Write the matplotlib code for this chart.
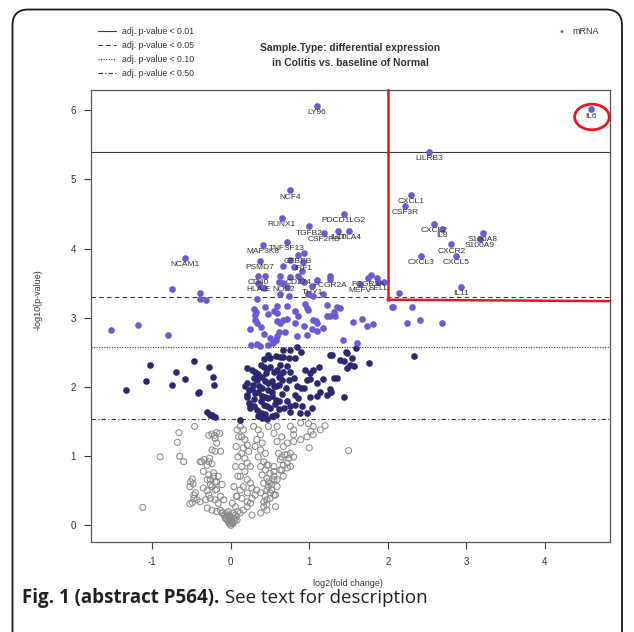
import numpy as np
import matplotlib
matplotlib.use("Agg")
import matplotlib.pyplot as plt
from matplotlib.patches import Ellipse, FancyBboxPatch
from matplotlib.lines import Line2D

plt.rcParams['font.family'] = ['Liberation Sans', 'DejaVu Sans']

# labelled genes (all above adj. p < 0.05)
gene_names = ['LY96', 'IL6', 'LILRB3', 'NCF4', 'RUNX1', 'PDCD1LG2', 'TGFB2', 'CSF2RB',
              'IL10', 'CTLA4', 'TNFSF13', 'MAP3K8', 'NCAM1', 'PSMD7', 'CEBPB', 'IRF1',
              'CD40', 'CD274', 'HLA-E', 'NOS2', 'THY1', 'FCGR2A', 'FCGR3A', 'MEFV', 'SELL',
              'CXCL1', 'CSF3R', 'CXCL2', 'IL8', 'S100A9', 'S100A8', 'CXCR2', 'CXCL3',
              'CXCL5', 'IL11']
gene_x = [1.10, 4.59, 2.53, 0.76, 0.65, 1.44, 1.00, 1.19, 1.37, 1.50, 0.72, 0.41, -0.58,
          0.37, 0.85, 0.92, 0.35, 0.86, 0.35, 0.67, 1.04, 1.27, 1.75, 1.65, 1.88, 2.30,
          2.22, 2.59, 2.69, 3.17, 3.21, 2.81, 2.42, 2.87, 2.93]
gene_y = [6.06, 6.01, 5.39, 4.84, 4.44, 4.50, 4.32, 4.22, 4.25, 4.26, 4.10, 4.05, 3.86,
          3.82, 3.91, 3.81, 3.61, 3.61, 3.50, 3.50, 3.46, 3.56, 3.58, 3.49, 3.52, 4.78,
          4.61, 4.36, 4.28, 4.14, 4.22, 4.06, 3.89, 3.89, 3.45]

# adj. p < 0.10 (light purple), unlabelled
purple_xy = np.array([
    (-0.75, 3.41), (-0.39, 3.36), (-0.39, 3.27), (-0.32, 3.25), (-1.53, 2.82), (-1.18, 2.89),
    (-0.80, 2.75), (0.76, 3.84), (0.67, 3.75), (0.44, 3.60), (0.63, 3.60), (0.76, 3.59),
    (0.91, 3.68), (0.89, 3.55), (0.61, 3.52), (0.37, 3.46), (0.42, 3.43), (0.63, 3.34),
    (0.99, 3.34), (1.05, 3.31), (1.18, 3.34), (1.26, 3.61), (1.78, 3.62), (1.86, 3.57),
    (1.95, 3.52), (0.72, 3.45), (0.33, 3.27), (2.14, 3.36), (0.93, 3.51), (1.10, 3.55),
    (0.93, 3.93), (0.80, 3.74), (0.44, 3.16), (0.59, 3.17), (0.72, 3.17), (0.95, 3.20),
    (0.97, 3.14), (1.23, 3.18), (1.35, 3.16), (2.07, 3.16), (0.30, 3.12), (0.32, 3.08),
    (0.31, 3.04), (0.48, 3.06), (0.55, 3.10), (0.59, 3.07), (0.74, 3.31), (0.82, 3.10),
    (0.86, 3.03), (0.99, 3.11), (1.05, 2.97), (1.08, 2.95), (1.10, 2.92), (1.39, 3.14),
    (1.31, 3.09), (1.33, 3.02), (1.56, 2.94), (1.67, 2.98), (1.73, 2.88), (1.81, 2.91),
    (0.34, 2.92), (0.38, 2.86), (0.42, 2.77), (0.50, 2.70), (0.59, 2.95), (0.63, 2.92),
    (0.67, 2.96), (0.72, 2.98), (0.61, 2.80), (0.59, 2.73), (0.57, 2.68), (0.54, 2.63),
    (0.69, 2.79), (0.84, 2.73), (0.93, 2.88), (0.97, 2.75), (1.03, 2.83), (1.10, 2.81),
    (1.18, 2.85), (1.23, 3.03), (0.26, 2.61), (0.34, 2.62), (0.47, 2.61), (1.43, 2.68),
    (1.61, 2.64), (2.05, 3.15), (0.82, 2.93), (1.27, 3.02), (2.31, 3.15), (2.24, 2.93),
    (2.41, 2.97), (2.69, 2.92), (0.37, 2.59), (0.25, 2.83), (0.31, 2.97),
])

# adj. p < 0.50 (dark navy)
navy_xy = np.array([
    (-1.03, 2.31), (-0.47, 2.38), (-0.28, 2.29), (-0.70, 2.21), (-0.58, 2.11), (-1.08, 2.09),
    (-0.75, 2.03), (-1.34, 1.95), (-0.42, 1.91), (-0.41, 1.93), (-0.30, 1.64), (-0.27, 1.60),
    (-0.24, 1.60), (-0.20, 1.57), (-0.22, 2.15), (-0.21, 2.03), (0.48, 2.46), (0.50, 2.42),
    (0.57, 2.44), (0.63, 2.43), (0.67, 2.43), (0.74, 2.42), (0.76, 2.54), (0.82, 2.42),
    (0.84, 2.58), (0.89, 2.51), (0.38, 2.32), (0.42, 2.29), (0.46, 2.26), (0.50, 2.29),
    (0.55, 2.22), (0.59, 2.24), (0.63, 2.17), (0.67, 2.21), (0.61, 2.14), (0.65, 2.10),
    (0.31, 2.21), (0.29, 2.13), (0.33, 2.10), (0.40, 2.14), (0.44, 2.08), (0.48, 2.05),
    (0.52, 2.08), (0.57, 2.01), (0.61, 2.03), (0.21, 2.05), (0.23, 1.96), (0.27, 1.97),
    (0.31, 1.91), (0.35, 1.93), (0.40, 1.87), (0.44, 1.86), (0.48, 1.84), (0.52, 1.87),
    (0.57, 1.81), (0.61, 1.79), (0.38, 1.79), (0.42, 1.74), (0.46, 1.72), (0.50, 1.69),
    (0.33, 1.67), (0.38, 1.62), (0.44, 1.61), (0.40, 1.55), (0.46, 1.53), (0.21, 1.86),
    (0.23, 1.77), (0.25, 1.69), (0.29, 1.73), (0.74, 2.10), (0.76, 2.22), (0.80, 2.13),
    (0.84, 2.01), (0.89, 1.98), (0.82, 1.89), (0.86, 1.84), (0.93, 1.98), (0.97, 2.10),
    (1.01, 2.20), (1.05, 2.25), (1.12, 2.29), (0.95, 2.25), (1.01, 1.86), (1.10, 1.87),
    (1.14, 1.93), (1.23, 1.89), (1.27, 1.97), (1.31, 2.13), (1.18, 2.11), (1.35, 2.13),
    (0.72, 1.79), (0.76, 1.72), (0.82, 1.74), (0.91, 1.72), (1.29, 2.46), (1.39, 2.39),
    (1.44, 2.38), (1.48, 2.49), (1.52, 2.32), (1.54, 2.42), (1.59, 2.56), (1.76, 2.35),
    (1.48, 2.27), (1.44, 1.86), (0.97, 1.62), (1.03, 1.69), (1.27, 2.46), (1.47, 2.51),
    (1.57, 2.30), (1.28, 1.93), (2.33, 2.45), (0.27, 2.25), (0.35, 2.18), (0.45, 2.20),
    (0.55, 2.02), (0.36, 2.02), (0.47, 1.95), (0.53, 1.92), (0.30, 1.83), (0.56, 1.76),
    (0.65, 1.90), (0.70, 1.98), (0.68, 1.70), (0.58, 1.60), (0.52, 1.58), (0.35, 1.58),
    (0.63, 2.32), (0.72, 2.30), (0.42, 2.40), (0.40, 1.98), (0.28, 2.03), (0.62, 1.68),
    (0.21, 2.27), (0.18, 2.01), (0.21, 1.89), (0.25, 1.74), (0.12, 1.52), (0.67, 2.54),
    (1.01, 2.11), (1.10, 2.05), (0.88, 1.62), (0.76, 1.64),
])

# not significant (open grey)
gray_xy = np.array([
    (-0.46, 1.43), (-0.66, 1.34), (-0.68, 1.20), (-0.90, 0.99), (-0.65, 1.00), (-0.60, 0.92),
    (-1.12, 0.26), (-0.28, 1.30), (-0.24, 1.32), (-0.21, 1.30), (-0.18, 1.34), (-0.14, 1.33),
    (-0.20, 1.26), (-0.24, 1.09), (-0.20, 1.07), (-0.13, 1.07), (-0.18, 1.19), (-0.39, 0.92),
    (-0.34, 0.95), (-0.28, 0.92), (-0.30, 0.87), (-0.49, 0.67), (-0.51, 0.63), (-0.48, 0.60),
    (-0.52, 0.56), (-0.45, 0.47), (-0.47, 0.39), (-0.43, 0.37), (-0.49, 0.33), (-0.52, 0.31),
    (-0.35, 0.78), (-0.28, 0.73), (-0.22, 0.76), (-0.26, 0.66), (-0.20, 0.63), (-0.16, 0.71),
    (-0.35, 0.54), (-0.30, 0.50), (-0.24, 0.56), (-0.18, 0.52), (-0.11, 0.59), (-0.39, 0.34),
    (-0.32, 0.37), (-0.26, 0.39), (-0.20, 0.37), (-0.13, 0.42), (-0.16, 0.32), (-0.09, 0.37),
    (-0.30, 0.25), (-0.24, 0.22), (-0.18, 0.20), (-0.11, 0.18), (-0.05, 0.15), (-0.01, 0.13),
    (0.04, 0.10), (0.08, 0.08), (-0.03, 0.05), (0.02, 0.03), (-0.07, 0.10), (-0.13, 0.22),
    (0.12, 0.18), (0.16, 0.22), (0.21, 0.27), (0.25, 0.32), (0.27, 0.39), (0.31, 0.44),
    (0.33, 0.51), (0.12, 1.43), (0.16, 1.38), (0.14, 1.28), (0.18, 1.24), (0.21, 1.16),
    (0.16, 1.12), (0.23, 1.07), (0.14, 1.04), (0.18, 0.97), (0.21, 0.90), (0.25, 0.85),
    (0.14, 0.85), (0.18, 0.78), (0.12, 0.71), (0.21, 0.66), (0.25, 0.61), (0.16, 0.56),
    (0.12, 0.51), (0.21, 0.47), (0.27, 0.54), (0.08, 0.42), (0.14, 0.39), (0.21, 0.34),
    (0.06, 0.27), (0.29, 1.43), (0.35, 1.38), (0.38, 1.31), (0.33, 1.24), (0.40, 1.19),
    (0.31, 1.14), (0.38, 1.09), (0.44, 1.04), (0.35, 0.99), (0.42, 0.92), (0.46, 0.87),
    (0.38, 0.85), (0.44, 0.80), (0.50, 0.75), (0.40, 0.73), (0.46, 0.68), (0.55, 0.66),
    (0.42, 0.61), (0.48, 0.56), (0.52, 0.51), (0.38, 0.47), (0.44, 0.42), (0.50, 0.39),
    (0.57, 0.44), (0.59, 0.56), (0.55, 0.85), (0.63, 0.95), (0.61, 1.04), (0.67, 1.14),
    (0.72, 1.19), (0.59, 1.21), (0.65, 1.28), (0.55, 1.33), (0.48, 1.43), (0.59, 1.43),
    (0.76, 1.43), (0.80, 1.38), (0.89, 1.48), (0.99, 1.47), (1.05, 1.43), (1.14, 1.38),
    (0.97, 1.28), (0.89, 1.24), (0.76, 1.04), (0.80, 0.99), (0.72, 0.90), (0.76, 0.85),
    (0.67, 0.71), (0.57, 0.27), (0.46, 0.22), (0.38, 0.18), (0.27, 0.15), (1.20, 1.44),
    (1.02, 1.36), (1.05, 1.31), (1.00, 1.12), (1.50, 1.08), (0.80, 1.21), (0.80, 1.31),
    (0.65, 0.99), (0.69, 1.02), (0.67, 0.87), (0.72, 0.83), (0.65, 0.80), (0.55, 0.71),
    (0.48, 0.63), (0.52, 0.59), (0.46, 0.51), (0.50, 0.47), (0.42, 0.34), (0.46, 0.30),
    (-0.47, 0.44), (-0.28, 0.44), (-0.20, 0.51), (-0.26, 0.59), (-0.30, 0.66), (-0.22, 0.71),
    (-0.18, 0.63), (-0.27, 0.97), (-0.24, 0.89), (0.08, 1.38), (0.10, 1.28), (0.07, 1.14),
    (0.09, 0.99), (0.06, 0.85), (0.09, 0.71), (0.04, 0.56), (0.07, 0.42), (0.02, 0.32),
    (-0.05, 0.18), (-0.03, 0.13), (0.00, 0.08), (0.02, 0.05), (0.04, 0.10), (-0.02, 0.03),
    (-0.06, 0.10), (0.06, 0.15), (0.03, 0.03), (0.00, 0.00), (-0.01, 0.02), (0.01, 0.06),
    (-0.04, 0.07), (0.05, 0.07), (0.07, 0.12), (-0.08, 0.14), (0.09, 0.20), (-0.10, 0.18),
    (0.00, 0.11), (0.03, 0.17), (-0.03, 0.20), (0.48, 0.87), (0.55, 0.78), (0.59, 0.66),
    (0.46, 0.37), (0.42, 0.27), (0.72, 1.02), (0.74, 0.97), (0.63, 0.80), (0.55, 0.44),
    (0.50, 0.61), (-0.37, 0.92),
])

# -log10(p) thresholds for adj. p-value < 0.01, 0.05, 0.10, 0.50
thresh_vals = [5.39, 3.30, 2.57, 1.53]
thresh_labels = ['adj. p-value < 0.01', 'adj. p-value < 0.05',
                 'adj. p-value < 0.10', 'adj. p-value < 0.50']
thresh_styles = ['-', (0, (4, 3)), (0, (1, 1.3)), (0, (4, 2, 1, 2))]

# highlighted region (red box)
red_fc = 2.0
red_p = 3.26

PURPLE = '#6a5bd3'
NAVY = '#2c2870'
GREY = '#8a8a8a'
LINE = '#3a3a3a'

W, H = 634, 632
fig = plt.figure(figsize=(W / 100, H / 100), dpi=100)
ax = fig.add_axes([91 / W, (H - 542) / H, 519 / W, 452 / H])

ax.scatter(gray_xy[:, 0], gray_xy[:, 1], s=19, facecolors='none',
           edgecolors=GREY, linewidths=0.75, zorder=2)
ax.scatter(navy_xy[:, 0], navy_xy[:, 1], s=23, color=NAVY, lw=0, zorder=3)
ax.scatter(purple_xy[:, 0], purple_xy[:, 1], s=23, color=PURPLE, lw=0, zorder=3)
ax.scatter(gene_x, gene_y, s=23, color=PURPLE, lw=0, zorder=3)

for name, gx, gy in zip(gene_names, gene_x, gene_y):
    ax.annotate(name, (gx, gy), xytext=(0, -4.8), textcoords='offset points',
                ha='center', va='center', fontsize=6, color='#333333', zorder=4)

for val, ls in zip(thresh_vals, thresh_styles):
    ax.axhline(val, color=LINE, lw=0.8, ls=ls, zorder=1)

ax.set_xlim(-1.78, 4.83)
ax.set_ylim(-0.24, 6.29)
ytop = ax.get_ylim()[1]
xright = ax.get_xlim()[1]

ax.plot([red_fc, red_fc], [red_p, ytop], color='#e3191f', lw=1.8, zorder=5, clip_on=False)
ax.plot([red_fc, xright], [red_p, red_p - 0.02], color='#e3191f', lw=1.8, zorder=5, clip_on=False)
il6 = gene_names.index('IL6')
ax.add_patch(Ellipse((gene_x[il6] + 0.01, gene_y[il6] - 0.11), 0.44, 0.37, fill=False,
                     edgecolor='#e3191f', lw=2.0, zorder=6, clip_on=False))

ax.set_xticks([-1, 0, 1, 2, 3, 4])
ax.set_yticks([0, 1, 2, 3, 4, 5, 6])
ax.set_xticklabels(['-1', '0', '1', '2', '3', '4'])
ax.tick_params(direction='out', length=5, width=0.8, color=LINE, labelsize=7,
               labelcolor='#333333', pad=6)
for sp in ax.spines.values():
    sp.set_color('#555555')
    sp.set_linewidth(0.9)

# legend for threshold lines (top left)
for i, (lab, ls) in enumerate(zip(thresh_labels, thresh_styles)):
    yy = 1 - (31 + i * 14) / H
    fig.add_artist(Line2D([98 / W, 116 / W], [yy, yy], color=LINE, lw=0.8, ls=ls))
    fig.text(122 / W, yy, lab, fontsize=6.3, color='#333333', va='center')

fig.text(562 / W, 1 - 32 / H, '\u2022', fontsize=8, color=PURPLE, va='center', ha='center')
fig.text(572 / W, 1 - 32 / H, 'mRNA', fontsize=6.5, color='#333333', va='center')

fig.text(350 / W, 1 - 48 / H, 'Sample.Type: differential expression', fontsize=7.4,
         fontweight='bold', color='#333333', ha='center', va='center')
fig.text(350 / W, 1 - 63 / H, 'in Colitis vs. baseline of Normal', fontsize=7.4,
         fontweight='bold', color='#333333', ha='center', va='center')

fig.text(38 / W, 1 - 300 / H, '-log10(p-value)', rotation=90, fontsize=6.5,
         color='#333333', ha='center', va='center')
fig.text(348 / W, 1 - 583 / H, 'log2(fold change)', fontsize=6.5,
         color='#333333', ha='center', va='center')

# caption
cap = fig.text(22 / W, 1 - 598 / H, 'Fig. 1 (abstract P564).', fontsize=13.5,
               fontweight='bold', family=['Open Sans', 'DejaVu Sans'], color='#231f20',
               va='center', ha='left')
ax.annotate(' See text for description', xy=(1, 0.5), xycoords=cap, fontsize=13.5,
            family=['Open Sans', 'DejaVu Sans'], color='#231f20', va='center', ha='left',
            annotation_clip=False)

# rounded frame around the figure
fig.add_artist(FancyBboxPatch((12.5 / W, -0.05), 609.5 / W, 1 - 9.5 / H + 0.05,
                              boxstyle='round,pad=0,rounding_size=0.025',
                              transform=fig.transFigure, facecolor='none',
                              edgecolor='#1a1a1a', lw=1.3))

fig.savefig('out.png', dpi=100)
